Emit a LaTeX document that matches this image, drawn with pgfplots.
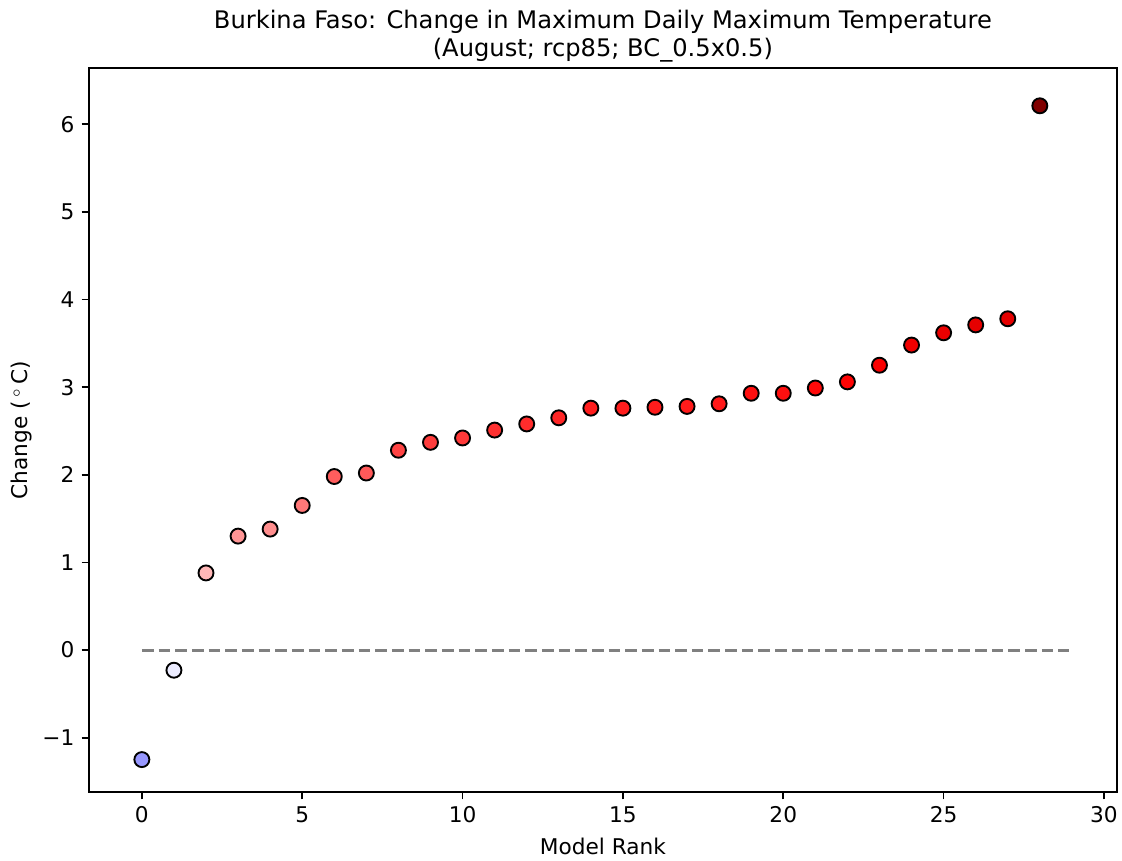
\documentclass[border=0pt]{standalone}
\usepackage{pgfplots}
\pgfplotsset{compat=1.18}
\usepackage{fontspec}
\setmainfont{DejaVu Sans}
\begin{document}
\begin{tikzpicture}
\path (0,0) rectangle (538.6pt,413.3pt);
\begin{axis}[
  at={(42.7pt,33.1pt)}, anchor=south west,
  scale only axis, width=493.4pt, height=347.5pt,
  xmin=-1.65, xmax=30.4, ymin=-1.62, ymax=6.64,
  xtick={0,5,...,30}, ytick={-1,0,...,6},
  tick align=outside, tick pos=left,
  major tick length=3.5pt,
  tick style={black, line width=0.8pt},
  axis line style={line width=0.8pt},
  every tick label/.append style={font=\fontsize{10.4}{12}\selectfont},
  /pgf/number format/assume math mode=true,
  yticklabel={\ifdim\tick pt<0pt −\pgfmathparse{-\tick}\pgfmathprintnumber{\pgfmathresult}\else\pgfmathprintnumber{\tick}\fi},
  xlabel={Model Rank}, ylabel={Change (\,$^\circ$\,C)},
  label style={font=\fontsize{10.4}{12}\selectfont},
  xlabel style={at={(axis description cs:0.5,0)}, anchor=base, inner sep=0pt, yshift=-30.2pt},
  ylabel style={at={(axis description cs:0,0.5)}, anchor=base, inner sep=0pt, rotate=0, yshift=29.3pt},
  colormap={seismic}{rgb=(0,0,0.3) rgb=(0,0,1) rgb=(1,1,1) rgb=(1,0,0) rgb=(0.5,0,0)},
  point meta min=-6.21, point meta max=6.21,
  after end axis/.code={
    \node[anchor=base, inner sep=0pt, font=\fontsize{11.6}{13.4}\selectfont, yshift=19.1pt] at (rel axis cs:0.5,1) {Burkina Faso: Change in Maximum Daily Maximum Temperature};
    \node[anchor=base, inner sep=0pt, font=\fontsize{11.6}{13.4}\selectfont, yshift=5.7pt] at (rel axis cs:0.5,1) {(August; rcp85; BC\_0.5x0.5)};
  },
]
\addplot[color={rgb,1:red,0.5;green,0.5;blue,0.5}, line width=1.45pt, dash pattern=on 5.6pt off 2.4pt] coordinates {(0,0) (28.9,0)};
\addplot[scatter, only marks, mark=*, mark size=3.6pt,
  scatter/use mapped color={draw=black, fill=mapped color},
  mark options={line width=0.9pt}, point meta=y] coordinates {
(0,-1.25) (1,-0.23) (2,0.88) (3,1.30) (4,1.38) (5,1.65) (6,1.98) (7,2.02)
(8,2.28) (9,2.37) (10,2.42) (11,2.51) (12,2.58) (13,2.65) (14,2.76) (15,2.76)
(16,2.77) (17,2.78) (18,2.81) (19,2.93) (20,2.93) (21,2.99) (22,3.06) (23,3.25)
(24,3.48) (25,3.62) (26,3.71) (27,3.78) (28,6.21)
};
\end{axis}
\pgfresetboundingbox
\path (0,0) rectangle (538.6pt,413.3pt);
\end{tikzpicture}
\end{document}
